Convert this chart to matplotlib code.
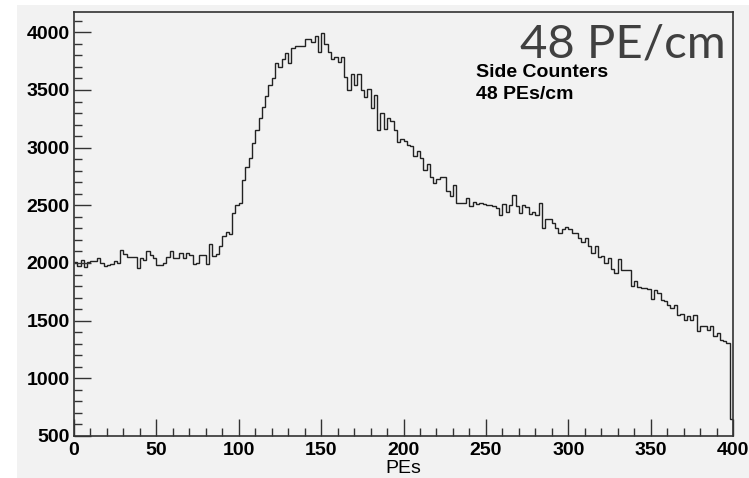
import matplotlib
matplotlib.use("Agg")
import matplotlib.pyplot as plt
import numpy as np
from matplotlib.patches import Rectangle

# Side counter PE spectrum, 2-PE wide bins from 0 to 400
bin_lo, bin_hi, bin_width = 0, 400, 2
counts = [
    2010, 1975, 2030, 1965, 2010, 2020, 2020, 2040, 2000, 1975,
    1985, 1990, 2020, 2000, 2115, 2075, 2055, 2055, 2050, 1955,
    2040, 2030, 2105, 2070, 2040, 1985, 1980, 2000, 2050, 2100,
    2045, 2040, 2085, 2040, 2090, 2070, 1995, 2000, 2070, 2070,
    1990, 2165,
    2060, 2075, 2150, 2230, 2265, 2255, 2430, 2505, 2520, 2720,
    2830, 2910, 3040, 3150, 3260, 3355, 3450, 3540, 3600, 3730,
    3700, 3770, 3820, 3730, 3865, 3880, 3880, 3880, 3940, 3940,
    3920, 3970, 3830, 3990, 3900, 3830, 3765, 3785, 3745, 3785,
    3610,
    3502, 3641, 3540, 3641, 3502, 3438, 3508, 3346, 3459, 3154,
    3299, 3163, 3259, 3235, 3154, 3047, 3073, 3061, 3027, 3010,
    2931, 2975, 2911, 2806, 2858, 2742, 2690, 2728, 2742, 2742,
    2626, 2577, 2676, 2516, 2516, 2516, 2560, 2490,
    2533, 2510, 2516, 2510, 2504, 2501, 2495, 2481, 2417,
    2510, 2443, 2504, 2588, 2495, 2432, 2501, 2487, 2423, 2443,
    2414, 2519, 2301, 2385, 2380, 2350, 2307, 2263, 2298, 2316,
    2298, 2263, 2263, 2220, 2185, 2220, 2148, 2090, 2148, 2055,
    2061, 2003, 2047, 1945, 1910, 2032, 1939, 1939, 1939, 1800,
    1844, 1795, 1780, 1786, 1771, 1684, 1765, 1736, 1678, 1669,
    1632, 1611, 1640, 1548, 1562, 1510, 1539, 1510, 1551, 1414,
    1458, 1458, 1423, 1458, 1371, 1394, 1336, 1322, 1307, 651,
]
x_ticks = [0, 50, 100, 150, 200, 250, 300, 350, 400]
y_ticks = [500, 1000, 1500, 2000, 2500, 3000, 3500, 4000]

edges = np.arange(bin_lo, bin_hi + bin_width, bin_width)

bg = "#f2f2f2"
fig = plt.figure(figsize=(7.49, 4.78), dpi=100, facecolor="white")
fig.patches.append(Rectangle((17 / 749, 0), 1, 1 - 5 / 478, transform=fig.transFigure,
                             facecolor=bg, edgecolor="none", zorder=-10))
ax = fig.add_axes([74 / 749, 1 - 436 / 478, (733 - 74) / 749, (436 - 12) / 478])
ax.set_facecolor(bg)

ax.stairs(counts, edges, baseline=None, color="#222222", linewidth=1.0)

ax.set_xlim(bin_lo, bin_hi)
ax.set_ylim(500, 4176)
ax.set_xticks(x_ticks)
ax.set_yticks(y_ticks)
ax.set_xticks(np.arange(0, 401, 10), minor=True)
ax.set_yticks(np.arange(500, 4101, 100), minor=True)

tick_font = dict(family="Liberation Sans", weight="bold", size=14)
ax.set_xticklabels([str(v) for v in x_ticks], **tick_font)
ax.set_yticklabels([str(v) for v in y_ticks], **tick_font)
ax.tick_params(which="both", direction="in", top=False, right=False, color="#333333", width=1.0)
ax.tick_params(which="major", length=12, pad=3)
ax.tick_params(which="minor", length=6)
ax.tick_params(axis="x", pad=4)

for side in ax.spines.values():
    side.set_color("#333333")
    side.set_linewidth(1.2)

ax.set_xlabel("PEs", family="Liberation Sans", size=14, labelpad=1)

fig.text(520 / 749, 1 - 58 / 478, "48 PE/cm", family="Lato", size=34,
         color="#404040", ha="left", va="baseline")
fig.text(476 / 749, 1 - 77 / 478, "Side Counters", family="Liberation Sans",
         weight="bold", size=14, ha="left", va="baseline")
fig.text(476 / 749, 1 - 99 / 478, "48 PEs/cm", family="Liberation Sans",
         weight="bold", size=14, ha="left", va="baseline")

fig.savefig("out.png", dpi=100, facecolor=fig.get_facecolor())
